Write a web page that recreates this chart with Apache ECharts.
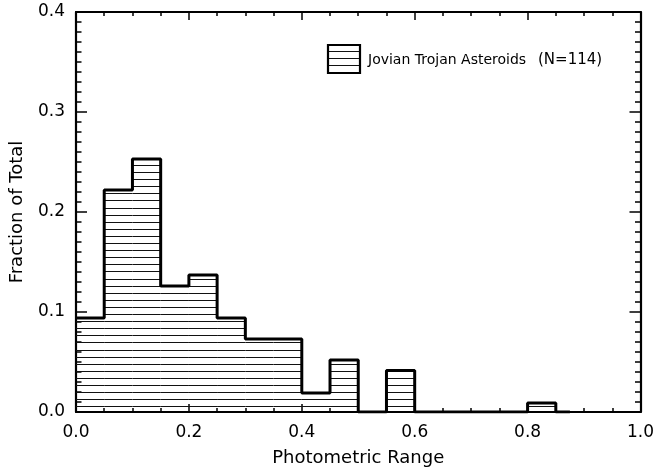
<!DOCTYPE html>
<html>
<head>
<meta charset="utf-8">
<script src="https://cdn.jsdelivr.net/npm/echarts@6/dist/echarts.min.js"></script>
<style>
  html, body { margin: 0; padding: 0; background: #fff; }
  #chart { width: 657px; height: 472px; }
</style>
</head>
<body>
<div id="chart"></div>
<script>
// bin edges (photometric range) and fraction of total per bin
var binStart = [0.00, 0.05, 0.10, 0.15, 0.20, 0.25, 0.30, 0.35, 0.40, 0.45, 0.50, 0.55, 0.60, 0.65, 0.70, 0.75, 0.80];
var binWidth = 0.05;
var fractions = [0.094, 0.222, 0.253, 0.126, 0.137, 0.094, 0.073, 0.073, 0.019, 0.052, 0.0, 0.0415, 0.0, 0.0, 0.0, 0.0, 0.009];
var outlineEnd = 0.875;
var legendText = 'Jovian Trojan Asteroids';
var legendCount = '(N=114)';

var FONT = '"DejaVu Sans", sans-serif';
var HATCH = 7.1;

var chart = echarts.init(document.getElementById('chart'), null, { renderer: 'canvas' });

// rows for the hatched fill
var fillData = [];
for (var i = 0; i < binStart.length; i++) {
  fillData.push([binStart[i], binStart[i] + binWidth, fractions[i]]);
}

// step outline points
var outlineData = [];
for (var j = 0; j < binStart.length; j++) {
  outlineData.push([binStart[j], fractions[j]]);
}
outlineData.push([binStart[binStart.length - 1] + binWidth, 0]);
outlineData.push([outlineEnd, 0]);

function hatchRender(params, api) {
  var x0 = api.value(0), x1 = api.value(1), v = api.value(2);
  if (v <= 0) return null;
  var top = api.coord([x0, v]);
  var bot = api.coord([x1, 0]);
  var children = [];
  for (var y = bot[1] - 5.6; y > top[1] + 0.5; y -= HATCH) {
    var yy = Math.round(y) + 0.5;
    children.push({
      type: 'line',
      shape: { x1: top[0], y1: yy, x2: bot[0], y2: yy },
      style: { stroke: '#111', lineWidth: 1 }
    });
  }
  return { type: 'group', children: children };
}

var axisLine = { show: true, onZero: false, lineStyle: { color: '#000', width: 2.2 } };

function xAxisBase(pos, showLabel) {
  return {
    type: 'value', position: pos, min: 0, max: 1, interval: 0.2,
    axisLine: axisLine,
    axisTick: { show: true, inside: true, length: 8, lineStyle: { color: '#000', width: 1.5 } },
    minorTick: { show: true, splitNumber: 4, length: 4, lineStyle: { color: '#000', width: 1.5 } },
    splitLine: { show: false },
    axisLabel: {
      show: showLabel, margin: 12, color: '#000', fontFamily: FONT, fontSize: 17,
      formatter: function (v) { return v.toFixed(1); }
    }
  };
}

function yAxisBase(pos, showLabel) {
  return {
    type: 'value', position: pos, min: 0, max: 0.4, interval: 0.1,
    axisLine: axisLine,
    axisTick: { show: true, inside: true, length: 11, lineStyle: { color: '#000', width: 1.5 } },
    minorTick: { show: true, splitNumber: 10, length: 5.5, lineStyle: { color: '#000', width: 1.5 } },
    splitLine: { show: false },
    axisLabel: {
      show: showLabel, margin: 11, color: '#000', fontFamily: FONT, fontSize: 17,
      formatter: function (v) { return v.toFixed(1); }
    }
  };
}

var xb = xAxisBase('bottom', true);
xb.name = 'Photometric Range';
xb.nameLocation = 'middle';
xb.nameGap = 37;
xb.nameTextStyle = { color: '#000', fontFamily: FONT, fontSize: 18 };

var yl = yAxisBase('left', true);
yl.name = 'Fraction of Total';
yl.nameLocation = 'middle';
yl.nameGap = 50;
yl.nameTextStyle = { color: '#000', fontFamily: FONT, fontSize: 18 };

// legend swatch
var legendLines = [];
for (var k = 0; k < 3; k++) {
  legendLines.push({
    type: 'line',
    shape: { x1: 329, y1: 51.5 + k * 7, x2: 359, y2: 51.5 + k * 7 },
    style: { stroke: '#111', lineWidth: 1 }
  });
}

chart.setOption({
  backgroundColor: '#ffffff',
  animation: false,
  grid: { left: 76, right: 15, top: 12, bottom: 59 },
  xAxis: [xb, xAxisBase('top', false)],
  yAxis: [yl, yAxisBase('right', false)],
  graphic: legendLines.concat([
    {
      type: 'rect',
      shape: { x: 328, y: 45, width: 32, height: 28 },
      style: { fill: 'none', stroke: '#000', lineWidth: 2.2 }
    },
    {
      type: 'text', x: 368, y: 60,
      style: { text: legendText, fill: '#000', font: '14px ' + FONT, verticalAlign: 'middle' }
    },
    {
      type: 'text', x: 538, y: 60,
      style: { text: legendCount, fill: '#000', font: '15px ' + FONT, verticalAlign: 'middle' }
    }
  ]),
  series: [
    {
      type: 'custom',
      xAxisIndex: 0, yAxisIndex: 0,
      renderItem: hatchRender,
      data: fillData,
      z: 2
    },
    {
      type: 'line',
      xAxisIndex: 0, yAxisIndex: 0,
      step: 'end',
      showSymbol: false,
      symbol: 'none',
      data: outlineData,
      lineStyle: { color: '#000', width: 3 },
      z: 3
    }
  ]
});
</script>
</body>
</html>
